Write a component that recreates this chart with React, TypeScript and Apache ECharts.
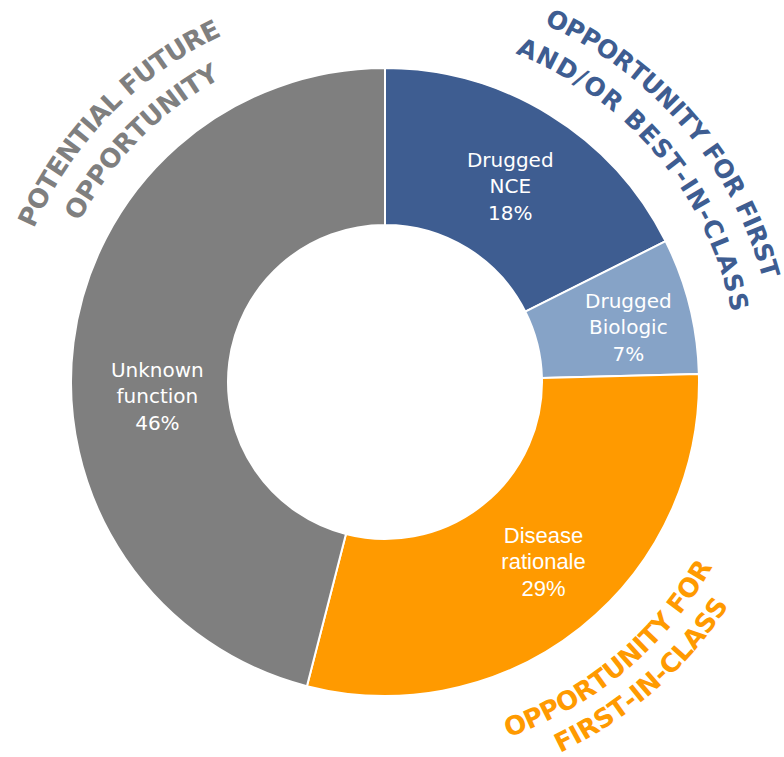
import React, { useEffect, useRef } from "react";
import * as echarts from "echarts";

const categories = ["Drugged\nNCE", "Drugged\nBiologic", "Disease\nrationale", "Unknown\nfunction"];
const shares = [17.6, 7.0, 29.4, 46.0];
const sliceColors = ["#3E5D91", "#86A3C7", "#FF9A00", "#7F7F7F"];

const headingLines = ["POTENTIAL FUTURE", "OPPORTUNITY", "OPPORTUNITY FOR FIRST", "AND/OR BEST-IN-CLASS", "OPPORTUNITY FOR", "FIRST-IN-CLASS"];

const CX = 385;
const CY = 382;

type ArcSpec = {
  text: string;
  r: number;
  from: number;
  to: number;
  font: string;
  fill: string;
  bottom: boolean;
};

function measure(ctx: CanvasRenderingContext2D, font: string, s: string) {
  ctx.font = font;
  return ctx.measureText(s).width;
}

function arcChars(spec: ArcSpec, ctx: CanvasRenderingContext2D) {
  const chars = spec.text.split("");
  const widths = chars.map((c) => measure(ctx, spec.font, c));
  const n = chars.length;
  let natural = 0;
  for (let i = 0; i < n - 1; i++) natural += (widths[i] + widths[i + 1]) / 2;
  const spanRad = (Math.abs(spec.to - spec.from) * Math.PI) / 180;
  const target = spanRad * spec.r;
  const extra = n > 1 ? (target - natural) / (n - 1) : 0;
  const dir = spec.to >= spec.from ? 1 : -1;
  const els: any[] = [];
  let s = 0;
  for (let i = 0; i < n; i++) {
    if (i > 0) s += (widths[i - 1] + widths[i]) / 2 + extra;
    const theta = (spec.from * Math.PI) / 180 + (dir * s) / spec.r;
    const x = CX + spec.r * Math.sin(theta);
    const y = CY - spec.r * Math.cos(theta);
    const rotation = spec.bottom ? Math.PI - theta : -theta;
    if (chars[i] === " ") continue;
    els.push({
      type: "text",
      x,
      y,
      rotation,
      silent: true,
      style: {
        text: chars[i],
        font: spec.font,
        fill: spec.fill,
        textAlign: "center",
        textVerticalAlign: "middle",
      },
    });
  }
  return els;
}

const labelShift = [
  [0, 7],
  [12, 3],
  [10, -7],
  [9, 44],
];

export default function App() {
  const ref = useRef<HTMLDivElement>(null);
  useEffect(() => {
    if (!ref.current) return;
    const chart = echarts.init(ref.current, null, { renderer: "svg" });
    const canvas = document.createElement("canvas");
    const ctx = canvas.getContext("2d") as CanvasRenderingContext2D;

    const grayFont = "bold 26px 'DejaVu Sans'";
    const blueFont = "bold 25px 'DejaVu Sans'";
    const orangeFont = "bold 26px 'DejaVu Sans'";
    const specs: ArcSpec[] = [
      { text: headingLines[0], r: 392, from: 295, to: 333.5, font: grayFont, fill: "#7F7F7F", bottom: false },
      { text: headingLines[1], r: 354, from: 299.5, to: 330, font: grayFont, fill: "#7F7F7F", bottom: false },
      { text: headingLines[2], r: 400, from: 25.5, to: 73.6, font: blueFont, fill: "#3E5D91", bottom: false },
      { text: headingLines[3], r: 362, from: 23.2, to: 77.2, font: blueFont, fill: "#3E5D91", bottom: false },
      { text: headingLines[4], r: 367, from: 159.2, to: 120.9, font: orangeFont, fill: "#FF9A00", bottom: true },
      { text: headingLines[5], r: 401, from: 153.5, to: 124.3, font: orangeFont, fill: "#FF9A00", bottom: true },
    ];
    const graphics: any[] = [];
    specs.forEach((sp) => graphics.push(...arcChars(sp, ctx)));

    const data = categories.map((name, i) => ({
      name,
      value: shares[i],
      itemStyle: { color: sliceColors[i] },
      label: i === 2 ? { fontFamily: "'Liberation Sans', Arial, sans-serif", fontSize: 22 } : {},
    }));

    chart.setOption({
      animation: false,
      backgroundColor: "#ffffff",
      series: [
        {
          type: "pie",
          center: [CX, CY],
          radius: [157, 314],
          startAngle: 90,
          clockwise: true,
          avoidLabelOverlap: false,
          silent: true,
          data,
          itemStyle: { borderColor: "#ffffff", borderWidth: 2 },
          label: {
            show: true,
            position: "inside",
            color: "#ffffff",
            fontFamily: "'DejaVu Sans', sans-serif",
            fontSize: 20,
            lineHeight: 26.5,
            formatter: (p: any) => `${p.name}\n${Math.round(p.value)}%`,
          },
          labelLayout: (p: any) => ({ dx: labelShift[p.dataIndex][0], dy: labelShift[p.dataIndex][1] }),
          labelLine: { show: false },
          emphasis: { disabled: true },
        },
      ],
      graphic: graphics,
    });
    return () => chart.dispose();
  }, []);
  return (
    <div
      ref={ref}
      style={{ position: "absolute", left: 0, top: 0, width: 784, height: 757 }}
    />
  );
}
